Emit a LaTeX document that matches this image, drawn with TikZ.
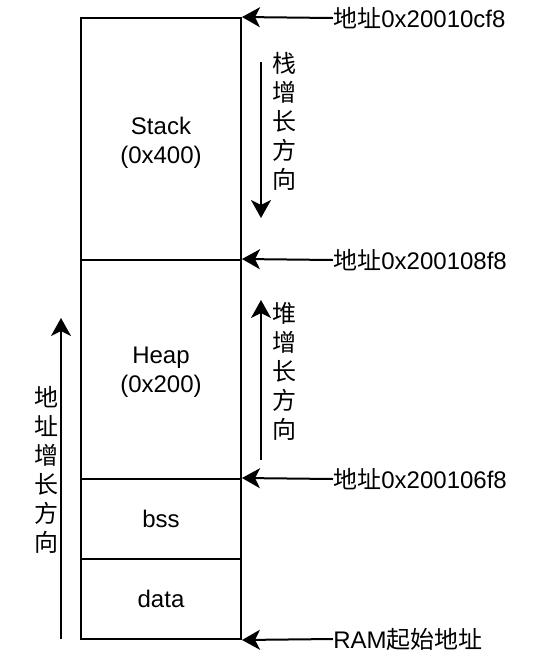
\documentclass[tikz,border=0pt]{standalone}
\usepackage{fontspec}
\setmainfont{Liberation Sans}
\newfontfamily\cjk{Noto Sans CJK SC}
\usetikzlibrary{arrows.meta}
\begin{document}
\begin{tikzpicture}[
    x=0.5pt, y=-0.5pt,
    seg/.style={rectangle, draw, line width=1pt, minimum width=80pt, inner sep=0pt},
    seglabel/.style={align=center, inner sep=0pt, font=\fontsize{12}{14.5}\selectfont},
    addr/.style={anchor=west, inner sep=0pt, font=\fontsize{12}{14.5}\selectfont},
    vtext/.style={align=center, inner sep=0pt, font=\cjk\fontsize{12}{14.5}\selectfont},
    arrow/.style={-{Stealth[length=9pt, width=10pt, inset=2.5pt]}, line width=1pt}
]
\useasboundingbox (0,0) rectangle (532,660);
% Memory segments
\node[seg, minimum height=121pt] (stack) at (161,139) {};
\node[seg, minimum height=109.5pt] (heap) at (161,369.5) {};
\node[seg, minimum height=40pt] (bss) at (161,519) {};
\node[seg, minimum height=40pt] (data) at (161,599) {};
\node[seglabel] (stackl) at ([yshift=-2pt]stack.center) {Stack\\(0x400)};
\node[seglabel] (heapl) at ([yshift=-1.5pt]heap.center) {Heap\\(0x200)};
\node[seglabel] (bssl) at (bss.center) {bss};
\node[seglabel] (datal) at (data.center) {data};

% Address labels
\node[addr] (a1) at (333,18) {{\cjk 地址}0x20010cf8};
\node[addr] (a2) at (333,260) {{\cjk 地址}0x200108f8};
\node[addr] (a3) at (333,479) {{\cjk 地址}0x200106f8};
\node[addr] (a4) at (333,639) {RAM{\cjk 起始地址}};

\draw[arrow] (a1.west) -- (stack.north east);
\draw[arrow] (a2.west) -- (heap.north east);
\draw[arrow] (a3.west) -- (bss.north east);
\draw[arrow] (a4.west) -- (data.south east);

% Growth directions
\coordinate (s0) at (261,62);
\coordinate (s1) at (261,218);
\coordinate (h0) at (261,460);
\coordinate (h1) at (261,300);
\coordinate (r0) at (61,639);
\coordinate (r1) at (61,318);
\draw[arrow] (s0) -- (s1);
\draw[arrow] (h0) -- (h1);
\draw[arrow] (r0) -- (r1);

\node[vtext] (stxt) at (284,121) {栈\\增\\长\\方\\向};
\node[vtext] (htxt) at (284,371) {堆\\增\\长\\方\\向};
\node[vtext] (rtxt) at (46,470) {地\\址\\增\\长\\方\\向};
\end{tikzpicture}
\end{document}
